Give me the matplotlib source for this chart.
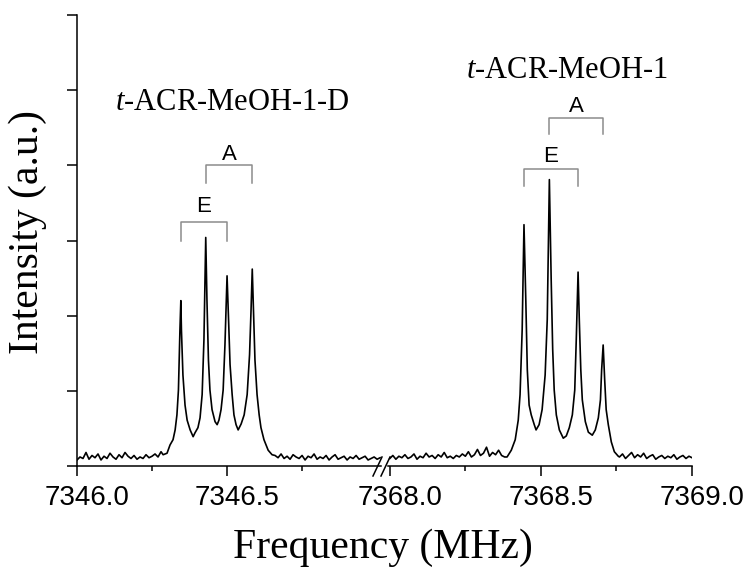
import matplotlib
matplotlib.use("Agg")
import matplotlib.pyplot as plt
import matplotlib.transforms as mtransforms
from matplotlib.lines import Line2D

# --- DATA ---
# left segment (t-ACR-MeOH-1-D), baseline before the peaks
LEFT_BASE1_FREQ = [7346.00, 7346.01, 7346.02, 7346.03, 7346.04, 7346.05, 7346.06,
                   7346.07, 7346.08, 7346.09, 7346.10, 7346.11, 7346.12, 7346.13,
                   7346.14, 7346.15, 7346.16, 7346.17, 7346.18, 7346.19, 7346.20,
                   7346.21, 7346.22, 7346.23, 7346.24, 7346.25, 7346.26, 7346.27,
                   7346.28]
LEFT_BASE1_INT = [0.08, 0.12, 0.10, 0.18, 0.09, 0.14, 0.11, 0.16, 0.08, 0.13,
                  0.10, 0.17, 0.12, 0.09, 0.15, 0.11, 0.18, 0.13, 0.10, 0.14,
                  0.09, 0.12, 0.10, 0.15, 0.11, 0.13, 0.16, 0.12, 0.19]
# peak region
LEFT_PEAK_FREQ = [7346.287, 7346.300, 7346.310, 7346.320, 7346.327, 7346.333,
                  7346.338, 7346.343, 7346.346, 7346.348, 7346.353, 7346.360,
                  7346.367, 7346.377, 7346.387, 7346.393, 7346.403, 7346.410,
                  7346.417, 7346.423, 7346.429, 7346.433, 7346.438, 7346.443,
                  7346.450, 7346.460, 7346.467, 7346.473, 7346.480, 7346.487,
                  7346.493, 7346.500, 7346.505, 7346.510, 7346.517, 7346.523,
                  7346.530, 7346.537, 7346.547, 7346.557, 7346.567, 7346.575,
                  7346.580, 7346.584, 7346.588, 7346.593, 7346.600, 7346.607,
                  7346.613, 7346.623, 7346.637, 7346.650]
LEFT_PEAK_INT = [0.15, 0.17, 0.28, 0.35, 0.48, 0.68,
                 1.01, 1.81, 2.20, 1.81, 1.21, 0.81,
                 0.61, 0.48, 0.39, 0.44, 0.51, 0.64,
                 0.95, 1.68, 3.04, 2.21, 1.41, 1.01,
                 0.75, 0.59, 0.55, 0.61, 0.75, 1.01,
                 1.61, 2.53, 1.95, 1.35, 0.95, 0.68,
                 0.55, 0.48, 0.56, 0.68, 0.95, 1.48,
                 2.08, 2.62, 2.08, 1.41, 0.95, 0.68,
                 0.51, 0.35, 0.21, 0.15]
# baseline after the peaks
LEFT_BASE2_FREQ = [7346.66, 7346.67, 7346.68, 7346.69, 7346.70, 7346.71, 7346.72,
                   7346.73, 7346.74, 7346.75, 7346.76, 7346.77, 7346.78, 7346.79,
                   7346.80, 7346.81, 7346.82, 7346.83, 7346.84, 7346.85, 7346.86,
                   7346.87, 7346.88, 7346.89, 7346.90, 7346.91, 7346.92, 7346.93,
                   7346.94, 7346.95, 7346.96, 7346.97, 7346.98, 7346.99, 7347.00,
                   7347.01]
LEFT_BASE2_INT = [0.14, 0.11, 0.16, 0.10, 0.13, 0.09, 0.15, 0.12, 0.10, 0.14,
                  0.08, 0.13, 0.11, 0.16, 0.09, 0.12, 0.10, 0.14, 0.08, 0.12,
                  0.15, 0.09, 0.11, 0.13, 0.08, 0.12, 0.10, 0.14, 0.09, 0.11,
                  0.13, 0.08, 0.10, 0.12, 0.09, 0.11]

# right segment (t-ACR-MeOH-1)
RIGHT_BASE1_FREQ = [7368.00, 7368.01, 7368.02, 7368.03, 7368.04, 7368.05, 7368.06,
                    7368.07, 7368.08, 7368.09, 7368.10, 7368.11, 7368.12, 7368.13,
                    7368.14, 7368.15, 7368.16, 7368.17, 7368.18, 7368.19, 7368.20,
                    7368.21, 7368.22, 7368.23, 7368.24, 7368.25, 7368.26, 7368.27,
                    7368.28, 7368.29, 7368.30, 7368.31, 7368.32, 7368.33, 7368.34,
                    7368.35, 7368.36, 7368.37, 7368.38]
RIGHT_BASE1_INT = [0.10, 0.14, 0.09, 0.13, 0.11, 0.15, 0.10, 0.12, 0.16, 0.09,
                   0.13, 0.11, 0.17, 0.12, 0.14, 0.10, 0.15, 0.12, 0.18, 0.11,
                   0.13, 0.10, 0.14, 0.12, 0.16, 0.13, 0.19, 0.12, 0.15, 0.22,
                   0.14, 0.17, 0.25, 0.13, 0.18, 0.15, 0.21, 0.14, 0.12]
RIGHT_PEAK_FREQ = [7368.388, 7368.402, 7368.415, 7368.425, 7368.431, 7368.438,
                   7368.444, 7368.450, 7368.455, 7368.461, 7368.468, 7368.478,
                   7368.484, 7368.494, 7368.504, 7368.514, 7368.521, 7368.528,
                   7368.534, 7368.539, 7368.544, 7368.551, 7368.561, 7368.574,
                   7368.584, 7368.594, 7368.604, 7368.612, 7368.617, 7368.623,
                   7368.627, 7368.632, 7368.637, 7368.647, 7368.657, 7368.670,
                   7368.680, 7368.690, 7368.697, 7368.701, 7368.706, 7368.711,
                   7368.716, 7368.723, 7368.733, 7368.743, 7368.756]
RIGHT_PEAK_INT = [0.12, 0.21, 0.35, 0.61, 0.95, 1.81,
                  3.21, 2.21, 1.28, 0.81, 0.68, 0.55,
                  0.48, 0.55, 0.75, 1.21, 1.95, 3.81,
                  2.48, 1.55, 1.01, 0.68, 0.48, 0.37,
                  0.40, 0.51, 0.68, 1.01, 1.68, 2.58,
                  1.95, 1.28, 0.88, 0.59, 0.45, 0.41,
                  0.48, 0.64, 0.88, 1.28, 1.61, 1.15,
                  0.75, 0.55, 0.32, 0.19, 0.13]
RIGHT_BASE2_FREQ = [7368.76, 7368.77, 7368.78, 7368.79, 7368.80, 7368.81, 7368.82,
                    7368.83, 7368.84, 7368.85, 7368.86, 7368.87, 7368.88, 7368.89,
                    7368.90, 7368.91, 7368.92, 7368.93, 7368.94, 7368.95, 7368.96,
                    7368.97, 7368.98, 7368.99, 7369.00]
RIGHT_BASE2_INT = [0.12, 0.16, 0.10, 0.14, 0.18, 0.11, 0.15, 0.12, 0.17, 0.10,
                   0.13, 0.15, 0.09, 0.12, 0.14, 0.10, 0.13, 0.11, 0.15, 0.09,
                   0.12, 0.14, 0.10, 0.13, 0.11]

# E / A doublet brackets: (label, start freq, end freq, top, bottom, label y)
LEFT_BRACKETS = [("E", 7346.346, 7346.500, 3.24, 3.00, 3.45),
                 ("A", 7346.429, 7346.584, 4.00, 3.77, 4.14)]
RIGHT_BRACKETS = [("E", 7368.444, 7368.623, 3.95, 3.72, 4.12),
                  ("A", 7368.528, 7368.706, 4.63, 4.42, 4.78)]

LEFT_TICKS = [7346.0, 7346.5]
LEFT_MINOR = [7346.25, 7346.75]
RIGHT_TICKS = [7368.0, 7368.5, 7369.0]
RIGHT_MINOR = [7368.25, 7368.75]

# --- STYLE ---
plt.rcParams["mathtext.fontset"] = "custom"
plt.rcParams["mathtext.rm"] = "Liberation Serif"
plt.rcParams["mathtext.it"] = "Liberation Serif:italic"
SERIF = "Liberation Serif"
SANS = "Liberation Sans"
W, H = 754, 571

fig = plt.figure(figsize=(W / 100, H / 100), dpi=100)

# axes boxes in pixels -> figure fractions
bottom = 1 - 466 / H
height = (466 - 15) / H
ax1 = fig.add_axes([77 / W, bottom, (381 - 77) / W, height])
ax2 = fig.add_axes([388 / W, bottom, (692 - 388) / W, height])

ax1.plot(LEFT_BASE1_FREQ + LEFT_PEAK_FREQ + LEFT_BASE2_FREQ,
         LEFT_BASE1_INT + LEFT_PEAK_INT + LEFT_BASE2_INT,
         color="black", lw=1.2)
ax2.plot(RIGHT_BASE1_FREQ + RIGHT_PEAK_FREQ + RIGHT_BASE2_FREQ,
         RIGHT_BASE1_INT + RIGHT_PEAK_INT + RIGHT_BASE2_INT,
         color="black", lw=1.2)

ax1.set_xlim(7346.0, 7347.013)
ax2.set_xlim(7367.994, 7369.0)
for ax in (ax1, ax2):
    ax.set_ylim(0, 6)
    ax.spines["top"].set_visible(False)
    ax.spines["right"].set_visible(False)
    ax.spines["bottom"].set_linewidth(1.1)
    ax.spines["left"].set_linewidth(1.1)
    ax.tick_params(axis="x", which="major", direction="out", length=7,
                   width=1.1, labelsize=20, pad=7)
    ax.tick_params(axis="x", which="minor", direction="out", length=3.5,
                   width=1.1)
    ax.patch.set_alpha(0)

ax1.set_xticks(LEFT_TICKS)
ax1.set_xticks(LEFT_MINOR, minor=True)
ax1.set_xticklabels([f"{t:.1f}" for t in LEFT_TICKS], family=SANS)
ax2.set_xticks(RIGHT_TICKS)
ax2.set_xticks(RIGHT_MINOR, minor=True)
ax2.set_xticklabels([f"{t:.1f}" for t in RIGHT_TICKS], family=SANS)

ax1.set_yticks(range(7))
ax1.set_yticklabels([])
ax1.tick_params(axis="y", direction="out", length=7, width=1.1)
ax2.spines["left"].set_visible(False)
ax2.set_yticks([])

# tick labels in the original sit a little right of their ticks
shift = mtransforms.ScaledTranslation(0.10, 0, fig.dpi_scale_trans)
for ax in (ax1, ax2):
    for lab in ax.get_xticklabels():
        lab.set_transform(lab.get_transform() + shift)

# E / A brackets
for ax, brackets in [(ax1, LEFT_BRACKETS), (ax2, RIGHT_BRACKETS)]:
    for label, f0, f1, top, bot, ly in brackets:
        ax.plot([f0, f0, f1, f1], [bot, top, top, bot], color="#8c8c8c", lw=1.1)
        ax.text((f0 + f1) / 2, ly, label, ha="center", va="center",
                fontsize=16, family=SANS)

# axis break marks
for x0 in (373, 381):
    fig.add_artist(Line2D([x0 / W, (x0 + 9) / W],
                          [1 - 476 / H, 1 - 457 / H],
                          color="black", lw=1.1))

# titles and axis labels
fig.text(115 / W, 1 - 103 / H, r"$\mathit{t}$-ACR-MeOH-1-D", fontsize=22,
         family=SERIF, va="center", ha="left")
fig.text(466 / W, 1 - 70 / H, r"$\mathit{t}$-ACR-MeOH-1", fontsize=22,
         family=SERIF, va="center", ha="left")
fig.text(383 / W, 1 - 548 / H, "Frequency (MHz)", fontsize=30, family=SERIF,
         ha="center", va="center")
fig.text(28 / W, 1 - 232 / H, "Intensity (a.u.)", fontsize=30, family=SERIF,
         ha="center", va="center", rotation=90)

fig.savefig("out.png", dpi=100)
